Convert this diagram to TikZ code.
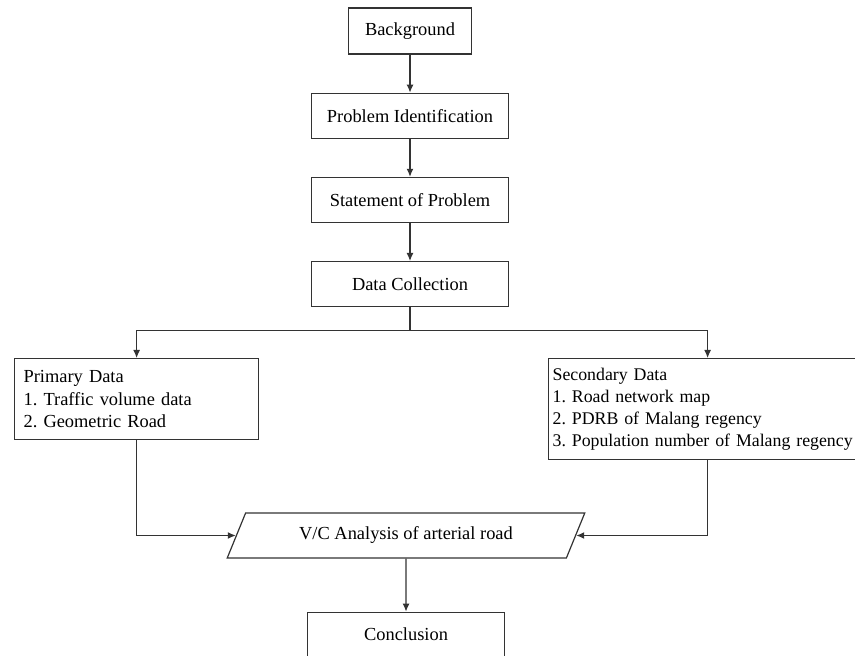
\documentclass[tikz,border=0pt]{standalone}
\usepackage{fontspec}
\setmainfont{Liberation Serif}
\frenchspacing
\usetikzlibrary{arrows.meta,positioning,shapes.geometric}

\begin{document}
\begin{tikzpicture}
[x=0.5pt, y=-0.5pt, node distance=19pt, >={Latex[length=4pt,width=3.5pt]},
font=\fontsize{9.2}{11.25}\selectfont,
% STYLES
% The stage style is used for the boxes of the main column
stage/.style={rectangle, draw=black!80, line width=0.6pt, inner sep=2pt, minimum width=98.5pt, minimum height=22.5pt},
% The datalist style is used for the boxes that list the data
datalist/.style={rectangle, draw=black!80, line width=0.6pt, inner xsep=4.5pt, inner ysep=5pt, align=left, anchor=north west},
% The analysis style is used to draw the parallelogram
analysis/.style={trapezium, trapezium left angle=63, trapezium right angle=117, trapezium stretches=true, draw=black!80, line width=0.6pt, inner sep=2pt, minimum width=179pt, minimum height=22.5pt},
% The link style is used for the arrows
link/.style={->, draw=black!80, line width=0.6pt}]

\useasboundingbox (0,0) rectangle (855,656);
\clip (0,0) rectangle (855,656);

% Draw main column
\node [stage, minimum width=61.5pt, minimum height=23pt] (background) at (410,31) {Background};
\node [stage, below=of background] (identification) {Problem Identification};
\node [stage, below=of identification] (statement) {Statement of Problem};
\node [stage, below=of statement] (collection) {Data Collection};
\coordinate [below=11.5pt of collection] (branch);

%%%%%%%%%%%%%%%
% Data lists

% primary
\node [datalist, text width=113pt, minimum height=40.5pt] (primary) at (14,358) {Primary Data\\
1. Traffic volume data\\
2. Geometric Road};

% secondary
\node [datalist, inner xsep=2pt, inner ysep=2.5pt, text width=155pt, minimum height=50.5pt,
  font=\fontsize{8.9}{10.9}\selectfont] (secondary) at (548,358) {Secondary Data\\
1. Road network map\\
2. PDRB of Malang regency\\
\mbox{3. Population number of Malang regency}};

%%%%%%%%%%%%%%%%

% analysis and conclusion
\node [analysis] (vc) at (406,535.5) {V/C Analysis of arterial road};
\node [stage, below=26.5pt of vc] (conclusion) {Conclusion};

% Draw the links
\draw [link] (background) -- (identification);
\draw [link] (identification) -- (statement);
\draw [link] (statement) -- (collection);
\draw [link] (collection) -- (branch) -| (primary);
\draw [link] (branch) -| (secondary);
\draw [link] (primary) |- (vc);
\draw [link] (secondary) |- (vc);
\draw [link] (vc) -- (conclusion);

\end{tikzpicture}
\end{document}
